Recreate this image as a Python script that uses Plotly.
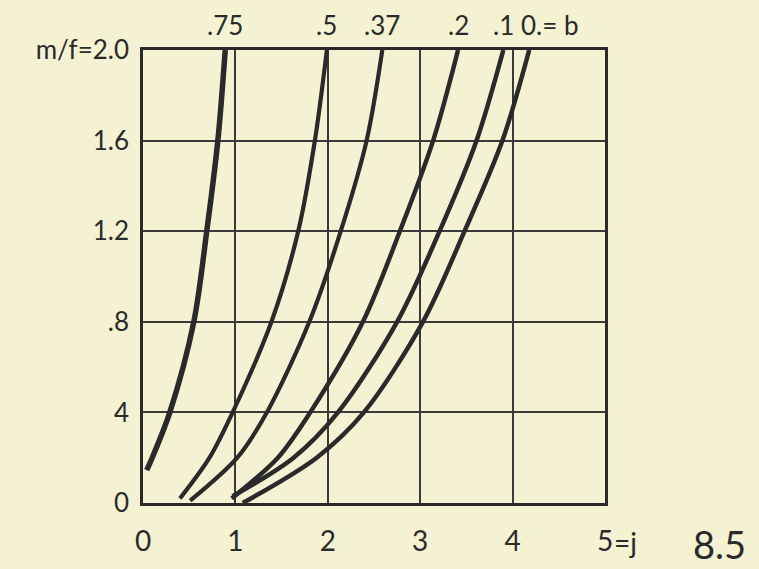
import plotly.graph_objects as go

# curve family m/f against j, one curve per value of b
b_labels = [".75", ".5", ".37", ".2", ".1", "0.= b"]

j_075 = [0.04, 0.10, 0.29, 0.55, 0.69, 0.81, 0.89]
mf_075 = [0.145, 0.2, 0.4, 0.8, 1.2, 1.6, 2.0]

j_050 = [0.40, 0.72, 0.97, 1.39, 1.68, 1.86, 1.99]
mf_050 = [0.02, 0.2, 0.4, 0.8, 1.2, 1.6, 2.0]

j_037 = [0.51, 1.02, 1.34, 1.80, 2.14, 2.42, 2.59]
mf_037 = [0.01, 0.2, 0.4, 0.8, 1.2, 1.6, 2.0]

j_020 = [0.96, 1.46, 1.81, 2.38, 2.78, 3.14, 3.41]
mf_020 = [0.02, 0.2, 0.4, 0.8, 1.2, 1.6, 2.0]

j_010 = [0.97, 1.63, 2.11, 2.75, 3.21, 3.61, 3.90]
mf_010 = [0.03, 0.2, 0.4, 0.8, 1.2, 1.6, 2.0]

j_000 = [1.08, 1.88, 2.39, 3.03, 3.48, 3.89, 4.18]
mf_000 = [0.0, 0.2, 0.4, 0.8, 1.2, 1.6, 2.0]

x_tickvals = [0, 1, 2, 3, 4, 5]
x_ticktext = ["0", "1", "2", "3", "4", "5"]
y_tickvals = [0, 0.4, 0.8, 1.2, 1.6, 2.0]
y_ticktext = ["0", "4", ".8", "1.2", "1.6", "m/f=2.0"]

PAPER = "#f5f1d3"
INK = "#2a2a2a"
FONT = "Lato"

series = [
    (j_075, mf_075, 5.5),
    (j_050, mf_050, 4.2),
    (j_037, mf_037, 4.2),
    (j_020, mf_020, 4.5),
    (j_010, mf_010, 4.5),
    (j_000, mf_000, 4.5),
]

fig = go.Figure()
for (xs, ys, w), name in zip(series, b_labels):
    fig.add_trace(go.Scatter(
        x=xs, y=ys, mode="lines", name=name,
        line=dict(color=INK, width=w, shape="spline", smoothing=0.9),
        hoverinfo="skip", showlegend=False,
    ))

# b labels above the top end of each curve
for (xs, ys, w), name in zip(series, b_labels):
    last = name == b_labels[-1]
    fig.add_annotation(
        x=xs[-1], y=ys[-1], xref="x", yref="y",
        text=name, showarrow=False,
        xanchor="left" if last else "center",
        xshift=-10 if last else 0,
        yanchor="bottom", yshift=7,
        font=dict(family=FONT, size=26, color=INK),
    )

# axis suffix next to the last j tick
fig.add_annotation(
    x=5, y=0, xref="x", yref="y", text="=j", showarrow=False,
    xanchor="left", yanchor="top", xshift=7, yshift=-20,
    font=dict(family=FONT, size=28, color=INK),
)

# figure number
fig.add_annotation(
    x=1.0, y=0.0, xref="paper", yref="paper", text="8.5", showarrow=False,
    xanchor="left", yanchor="top", xshift=86, yshift=-16,
    font=dict(family=FONT, size=38, color=INK),
)

fig.update_xaxes(
    range=[0, 5], tickvals=x_tickvals, ticktext=x_ticktext,
    showgrid=True, gridcolor="#3a3a3a", gridwidth=1.5,
    showline=True, mirror=True, linecolor=INK, linewidth=2.5,
    zeroline=False, ticks="", ticklabelstandoff=12,
    tickfont=dict(family=FONT, size=28, color=INK),
)
fig.update_yaxes(
    range=[0, 2], tickvals=y_tickvals, ticktext=y_ticktext,
    showgrid=True, gridcolor="#3a3a3a", gridwidth=2,
    showline=True, mirror=True, linecolor=INK, linewidth=2.5,
    zeroline=False, ticks="", ticklabelstandoff=6,
    tickfont=dict(family=FONT, size=26, color=INK),
)

fig.update_layout(
    width=759, height=569,
    margin=dict(l=143, r=154, t=50, b=64),
    paper_bgcolor=PAPER, plot_bgcolor=PAPER,
    showlegend=False,
)

fig.write_html("out.html")
